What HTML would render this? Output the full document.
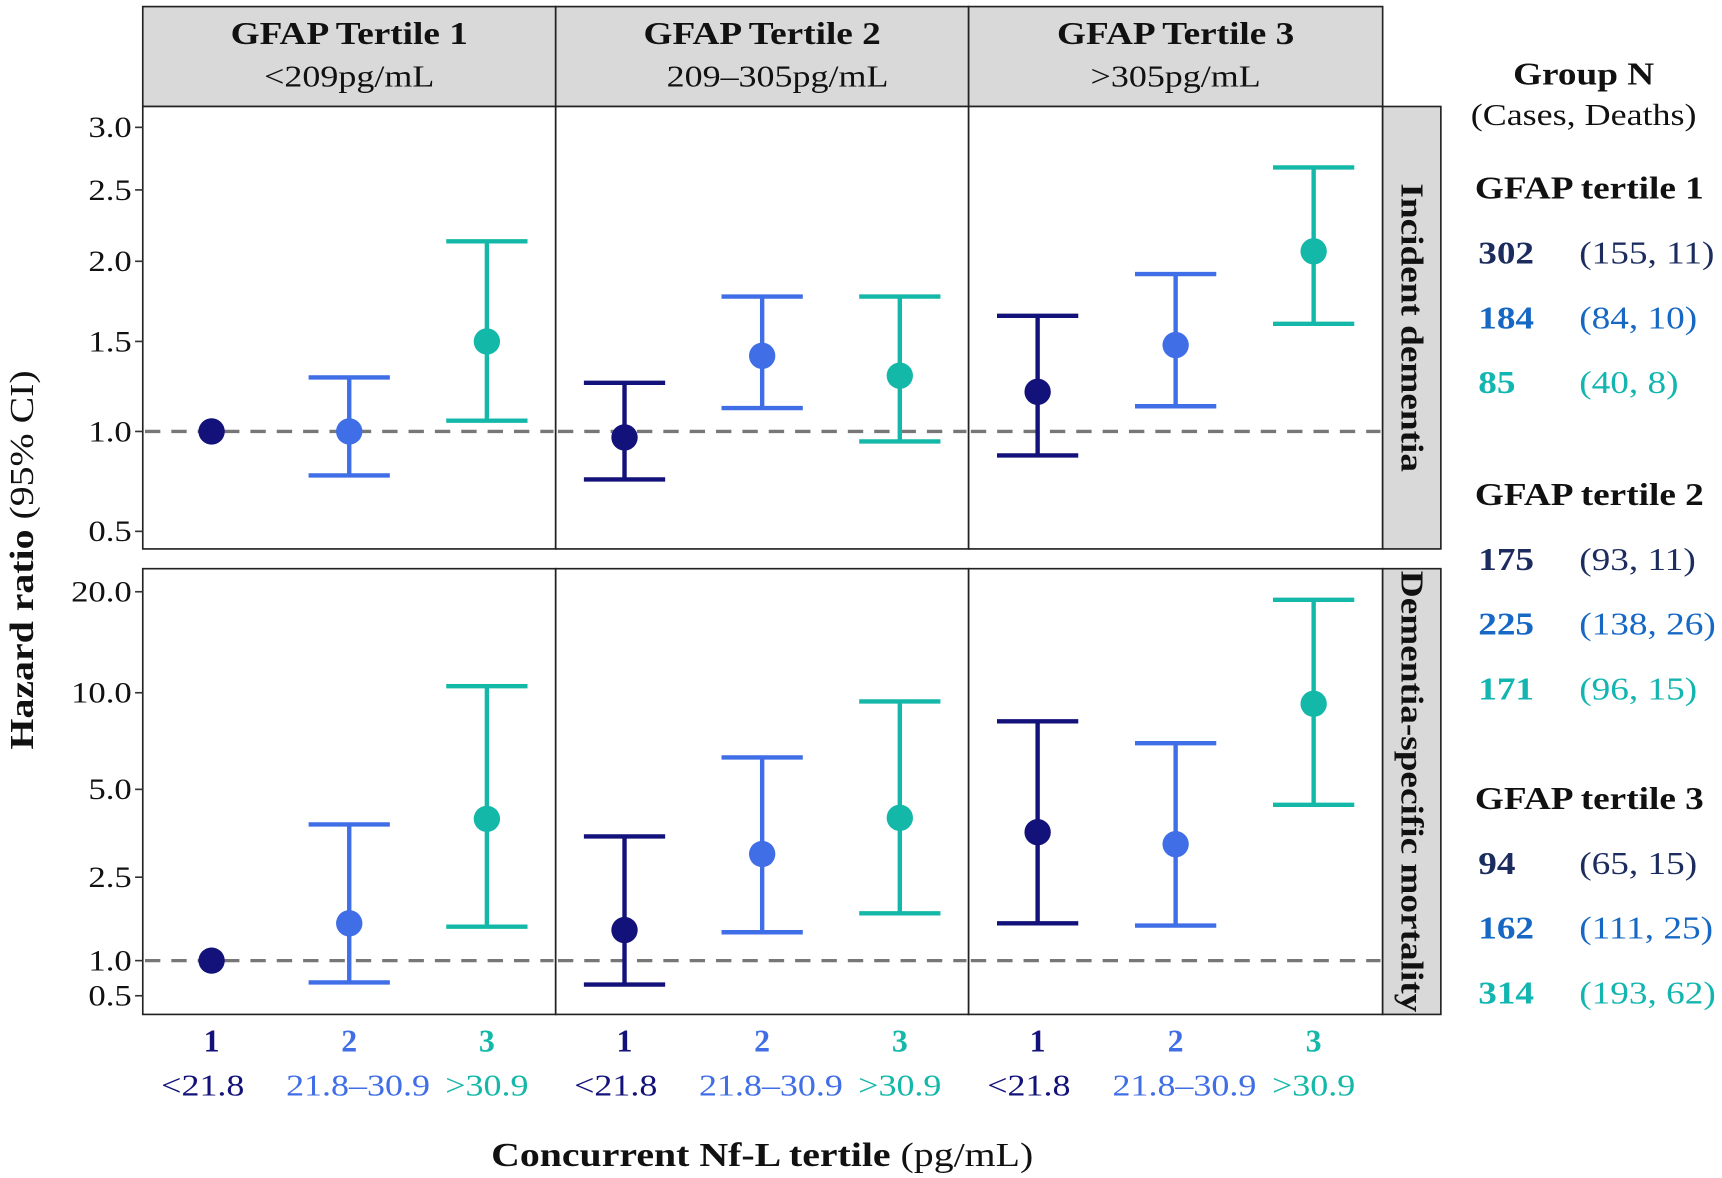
<!DOCTYPE html>
<html><head><meta charset="utf-8"><style>
html,body{margin:0;padding:0;background:#fff;}
svg{display:block;font-family:"Liberation Serif",serif;}
</style></head><body>
<svg id="chart" width="1722" height="1178" viewBox="0 0 1568 1073" preserveAspectRatio="none" xmlns="http://www.w3.org/2000/svg">
<g id="frame"></g>
<g id="marks"></g>
<g id="labels"></g>
</svg>
<script>
const NS="http://www.w3.org/2000/svg";
// ---- data ----
const gfapLabels=["GFAP Tertile 1","GFAP Tertile 2","GFAP Tertile 3"];
const gfapRanges=["<209pg/mL","209\u2013305pg/mL",">305pg/mL"];
const nflTertiles=["1","2","3"];
const nflRanges=["<21.8","21.8\u201330.9",">30.9"];
const outcomes=["Incident dementia","Dementia-specific mortality"];
const topTicks=[0.5,1.0,1.5,2.0,2.5,3.0];
const topTickLabels=["0.5","1.0","1.5","2.0","2.5","3.0"];
const bottomTicks=[0.5,1.0,2.5,5.0,10.0,20.0];
const bottomTickLabels=["0.5","1.0","2.5","5.0","10.0","20.0"];
const dementiaEst=[[1.0,1.0,1.5],[0.97,1.42,1.31],[1.22,1.48,2.07]];
const dementiaLo=[[null,0.78,1.06],[0.76,1.13,0.95],[0.88,1.14,1.61]];
const dementiaHi=[[null,1.30,2.14],[1.27,1.78,1.78],[1.66,1.92,2.68]];
const mortEst=[[1.0,1.67,4.16],[1.55,3.16,4.19],[3.78,3.44,9.43]];
const mortLo=[[null,0.69,1.61],[0.66,1.51,1.85],[1.67,1.63,4.56]];
const mortHi=[[null,4.0,10.65],[3.66,6.65,9.55],[8.52,7.39,19.2]];
const groupN=[[302,184,85],[175,225,171],[94,162,314]];
const groupCases=[["(155, 11)","(84, 10)","(40, 8)"],["(93, 11)","(138, 26)","(96, 15)"],["(65, 15)","(111, 25)","(193, 62)"]];
// ---- styles ----
const cols=["#12127a","#3f6ee6","#14b8a8"];
const rcols=["#1c2c5e","#1668c4","#12b5b0"];
const panelX=[130,506,882,1259];
const topY=[97,500], botY=[518,924];
const topPix=[484,393,311,238,173,116];
const botPix=[907,875,799,719,631,539];
const S=1.17;
function interp(v,ticks,pix){
  let i=0; while(i<ticks.length-2 && v>ticks[i+1]) i++;
  const t=(v-ticks[i])/(ticks[i+1]-ticks[i]);
  return pix[i]+t*(pix[i+1]-pix[i]);
}
const yTop=v=>interp(v,topTicks,topPix);
const yBot=v=>interp(v,bottomTicks,botPix);
function xPos(p,k){const w=(panelX[p+1]-panelX[p]);return panelX[p]+w*(1/6+k/3);}
function mk(tag,attrs,parent,text){const e=document.createElementNS(NS,tag);for(const k in attrs)e.setAttribute(k,attrs[k]);if(text!==undefined)e.textContent=text;parent.appendChild(e);return e;}
function stretch(e,x){e.setAttribute('transform',`translate(${x*(1-S)} 0) scale(${S} 1)`);}
function stretchRot(e,a,cx,cy){e.setAttribute('transform',`rotate(${a} ${cx} ${cy}) translate(${cx*(1-S)} 0) scale(${S} 1)`);}
const F=document.getElementById('frame'),M=document.getElementById('marks'),L=document.getElementById('labels');
for(let p=0;p<3;p++){
  const r=mk('rect',{x:panelX[p],y:6,width:panelX[p+1]-panelX[p],height:91,fill:'#d9d9d9',stroke:'#222','stroke-width':1.5},F);
  
  
  const cx=(panelX[p]+panelX[p+1])/2;
  const t1=mk('text',{x:cx,y:40,'text-anchor':'middle','font-size':29,'font-weight':'bold',fill:'#111'},L,gfapLabels[p]);
  
  
  stretch(t1,cx);
  const x2=cx+(p==1?14:0);
  const t2=mk('text',{x:x2,y:79,'text-anchor':'middle','font-size':28,fill:'#111'},L,gfapRanges[p]);
  
  
  stretch(t2,x2);
}
const rows=[{y:topY,ticks:topTicks,lab:topTickLabels,f:yTop,est:dementiaEst,lo:dementiaLo,hi:dementiaHi},
            {y:botY,ticks:bottomTicks,lab:bottomTickLabels,f:yBot,est:mortEst,lo:mortLo,hi:mortHi}];
rows.forEach((R,ri)=>{
  for(let p=0;p<3;p++){
    const r=mk('rect',{x:panelX[p],y:R.y[0],width:panelX[p+1]-panelX[p],height:R.y[1]-R.y[0],fill:'#fff',stroke:'#222','stroke-width':1.5},F);
    
    
    const d=mk('line',{x1:panelX[p]+2,x2:panelX[p+1]-2,y1:R.f(1),y2:R.f(1),stroke:'#777','stroke-width':3,'stroke-dasharray':'14 10'},F);
    
    
  }
  const s=mk('rect',{x:1259,y:R.y[0],width:53,height:R.y[1]-R.y[0],fill:'#d9d9d9',stroke:'#222','stroke-width':1.5},F);
  
  
  const cy=(R.y[0]+R.y[1])/2;
  const st=mk('text',{x:1276,y:cy,'text-anchor':'middle','font-size':29,'font-weight':'bold',fill:'#111'},L,outcomes[ri]);
  
  
  stretchRot(st,90,1276,cy);
  R.ticks.forEach((t,i)=>{
    const y=R.f(t);
    mk('line',{x1:123,x2:130,y1:y,y2:y,stroke:'#333','stroke-width':1.5},F);
    const tl=mk('text',{x:120,y:y+9,'text-anchor':'end','font-size':27,fill:'#111'},L,R.lab[i]);
    
    
    stretch(tl,120);
  });
  for(let p=0;p<3;p++)for(let k=0;k<3;k++){
    const x=xPos(p,k),c=cols[k];
    if(R.lo[p][k]!==null){
      const g=mk('g',{},M);
      
      
      const y1=R.f(R.lo[p][k]),y2=R.f(R.hi[p][k]);
      mk('line',{x1:x,x2:x,y1:y1,y2:y2,stroke:c,'stroke-width':4},g);
      mk('line',{x1:x-37,x2:x+37,y1:y1,y2:y1,stroke:c,'stroke-width':4},g);
      mk('line',{x1:x-37,x2:x+37,y1:y2,y2:y2,stroke:c,'stroke-width':4},g);
    }
    const pt=mk('circle',{cx:x,cy:R.f(R.est[p][k]),r:12,fill:c},M);
    
    
  }
});
for(let p=0;p<3;p++)for(let k=0;k<3;k++){
  const x=xPos(p,k);
  const a=mk('text',{x:x,y:958,'text-anchor':'middle','font-size':29,'font-weight':'bold',fill:cols[k]},L,nflTertiles[k]);
  
  
  const bx=x+(k==0?-8:k==1?8:0);
  const b=mk('text',{x:bx,y:998,'text-anchor':'middle','font-size':28,fill:cols[k]},L,nflRanges[k]);
  
  
  stretch(b,bx);
}
const xt=mk('text',{x:694,y:1062,'text-anchor':'middle','font-size':31,fill:'#111'},L);


mk('tspan',{'font-weight':'bold'},xt,'Concurrent Nf-L tertile');
mk('tspan',{},xt,' (pg/mL)');
stretch(xt,694);
const yt=mk('text',{x:30,y:510,'text-anchor':'middle','font-size':31,fill:'#111'},L);


mk('tspan',{'font-weight':'bold'},yt,'Hazard ratio');
mk('tspan',{},yt,'  (95% CI)');
stretchRot(yt,-90,30,510);
const h1=mk('text',{x:1442,y:77,'text-anchor':'middle','font-size':29,'font-weight':'bold',fill:'#111'},L,'Group N');


stretch(h1,1442);
const h2=mk('text',{x:1442,y:114,'text-anchor':'middle','font-size':28,fill:'#111'},L,'(Cases, Deaths)');


stretch(h2,1442);
const blockY=[181,460,737];
for(let g=0;g<3;g++){
  const gt=mk('text',{x:1343,y:blockY[g],'font-size':29,'font-weight':'bold',fill:'#111'},L,'GFAP tertile '+(g+1));
  
  
  stretch(gt,1343);
  for(let k=0;k<3;k++){
    const y=blockY[g]+59*(k+1);
    const n=mk('text',{x:1346,y:y,'font-size':29,'font-weight':'bold',fill:rcols[k]},L,String(groupN[g][k]));
    
    
    stretch(n,1346);
    const cc=mk('text',{x:1438,y:y,'font-size':29,fill:rcols[k]},L,groupCases[g][k]);
    
    
    stretch(cc,1438);
  }
}
</script>
</body></html>
